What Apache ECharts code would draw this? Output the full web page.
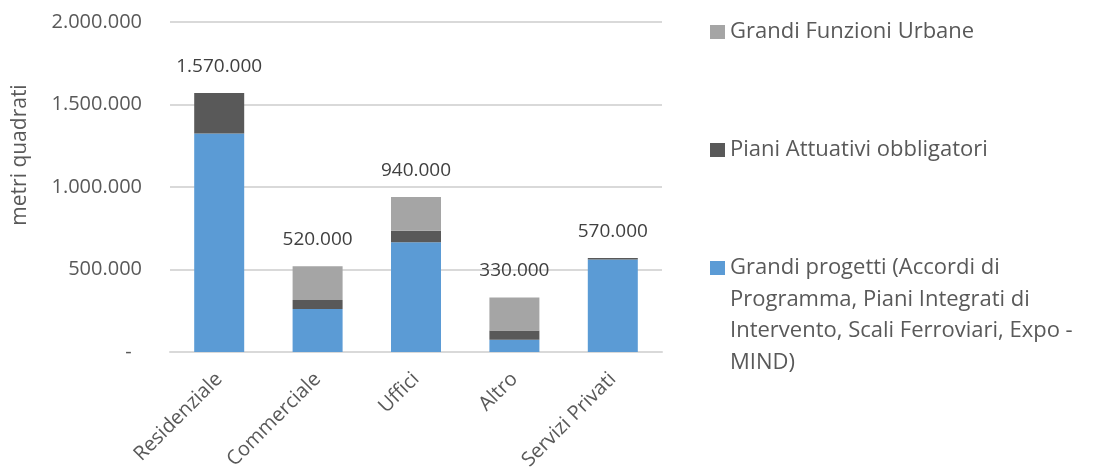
<!DOCTYPE html>
<html><head><meta charset="utf-8">
<script src="https://cdn.jsdelivr.net/npm/echarts@6/dist/echarts.min.js"></script>
<style>html,body{margin:0;padding:0;background:#fff}#c{width:1101px;height:475px}</style>
</head><body><div id="c"></div>
<script>
const categories = ['Residenziale', 'Commerciale', 'Uffici', 'Altro', 'Servizi Privati'];
const grandiProgetti = [1325000, 260000, 665000, 75000, 560000];
const pianiAttuativi = [245000, 55000, 70000, 55000, 10000];
const grandiFunzioni = [0, 205000, 205000, 200000, 0];
const totals = [1570000, 520000, 940000, 330000, 570000];
const yTicks = [0, 500000, 1000000, 1500000, 2000000];
const seriesNames = ['Grandi Funzioni Urbane', 'Piani Attuativi obbligatori', 'Grandi progetti (Accordi di Programma, Piani Integrati di Intervento, Scali Ferroviari, Expo - MIND)'];
const legend3Lines = ['Grandi progetti (Accordi di', 'Programma, Piani Integrati di', 'Intervento, Scali Ferroviari, Expo -', 'MIND)'];

function fmt(v){ return v.toString().replace(/\B(?=(\d{3})+(?!\d))/g, '.'); }
const FONT = '"Open Sans", sans-serif';
const LH = 31.5;
const chart = echarts.init(document.getElementById('c'), null, {renderer:'canvas'});
const legendBase = {orient:'vertical', left:710, padding:0, itemWidth:15, itemHeight:14, icon:'rect', selectedMode:false,
  textStyle:{fontFamily:FONT, fontSize:22, color:'#595959', lineHeight:LH}};
// blank lines before the wrapped name so the icon sits beside the first line
const legend3Text = '\n\n\n' + legend3Lines.join('\n');
chart.setOption({
  animation:false,
  textStyle:{fontFamily:FONT},
  grid:{left:170, right:439, top:22, bottom:123},
  legend:[
    Object.assign({}, legendBase, {top:32 - LH/2, data:[seriesNames[0]]}),
    Object.assign({}, legendBase, {top:150 - LH/2, data:[seriesNames[1]]}),
    Object.assign({}, legendBase, {top:268 - LH*3.5, data:[seriesNames[2]], formatter:()=>legend3Text})
  ],
  graphic:[{type:'text', x:20, y:155, rotation:Math.PI/2, style:{text:'metri quadrati', font:'21px "Open Sans", sans-serif', fill:'#595959', align:'center', verticalAlign:'middle'}}],
  xAxis:{type:'category', data:categories,
    axisLine:{lineStyle:{color:'#d9d9d9', width:2}}, axisTick:{show:false},
    axisLabel:{rotate:45, fontSize:20, color:'#595959', margin:24, interval:0}},
  yAxis:{type:'value', min:yTicks[0], max:yTicks[yTicks.length-1], interval:yTicks[1]-yTicks[0],
    axisLine:{show:false}, axisTick:{show:false},
    splitLine:{lineStyle:{color:'#d9d9d9', width:2}},
    axisLabel:{fontSize:20, color:'#595959', margin:28, formatter:v=> v===0 ? '-  ' : fmt(v)}},
  series:[
    {name:seriesNames[2], type:'bar', stack:'s', data:grandiProgetti, barWidth:50, itemStyle:{color:'#5b9bd5'}},
    {name:seriesNames[1], type:'bar', stack:'s', data:pianiAttuativi, barWidth:50, itemStyle:{color:'#595959'}},
    {name:seriesNames[0], type:'bar', stack:'s', data:grandiFunzioni, barWidth:50, itemStyle:{color:'#a5a5a5'},
      label:{show:true, position:'top', distance:17, fontSize:19, color:'#404040', formatter:p=>fmt(totals[p.dataIndex])}}
  ]
});
</script></body></html>
